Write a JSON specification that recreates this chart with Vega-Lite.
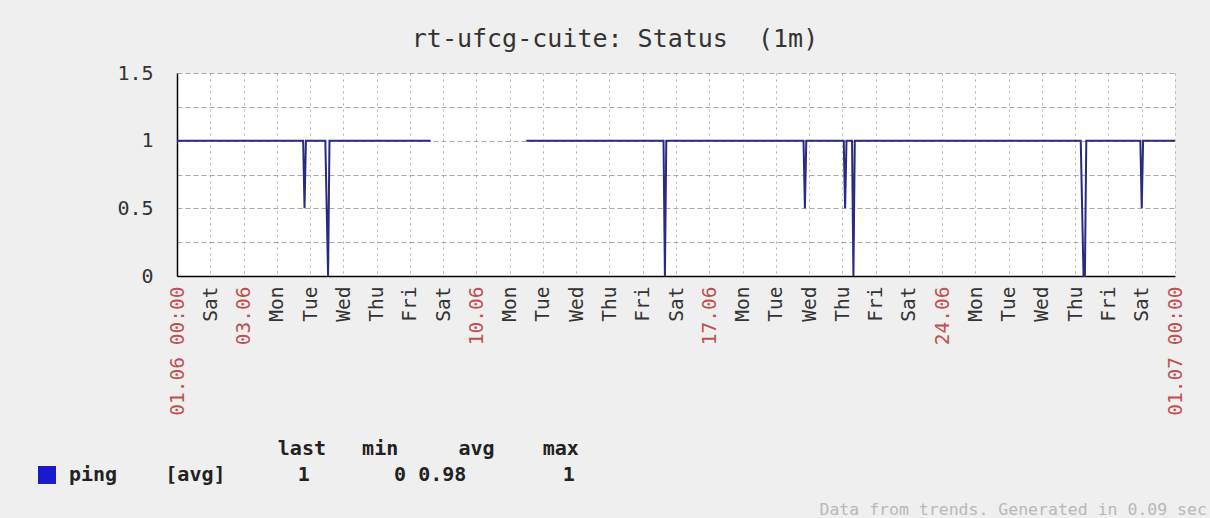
{
  "$schema": "https://vega.github.io/schema/vega-lite/v6.json",
  "autosize": {"type": "none"},
  "width": 998,
  "height": 203,
  "padding": {"left": 177, "top": 73, "right": 35, "bottom": 242},
  "background": "#efefef",
  "title": {
    "text": "rt-ufcg-cuite: Status\u00a0\u00a0(1m)",
    "font": "DejaVu Sans Mono",
    "fontSize": 25,
    "fontWeight": "normal",
    "color": "#333333",
    "frame": "group",
    "anchor": "middle",
    "dx": -61,
    "dy": 34,
    "baseline": "alphabetic",
    "offset": 25
  },
  "data": {
    "values": [
      {"time": "2012-06-01T00:00:00Z", "value": 1, "series": "ping", "seg": 1},
      {"time": "2012-06-04T19:00:00Z", "value": 1, "series": "ping", "seg": 1},
      {"time": "2012-06-04T20:00:00Z", "value": 0.5, "series": "ping", "seg": 1},
      {"time": "2012-06-04T21:00:00Z", "value": 1, "series": "ping", "seg": 1},
      {"time": "2012-06-05T11:00:00Z", "value": 1, "series": "ping", "seg": 1},
      {"time": "2012-06-05T12:00:00Z", "value": 0.5, "series": "ping", "seg": 1},
      {"time": "2012-06-05T13:00:00Z", "value": 0, "series": "ping", "seg": 1},
      {"time": "2012-06-05T14:00:00Z", "value": 1, "series": "ping", "seg": 1},
      {"time": "2012-06-08T15:00:00Z", "value": 1, "series": "ping", "seg": 1},
      {"time": "2012-06-11T12:00:00Z", "value": 1, "series": "ping", "seg": 2},
      {"time": "2012-06-15T15:00:00Z", "value": 1, "series": "ping", "seg": 2},
      {"time": "2012-06-15T16:00:00Z", "value": 0, "series": "ping", "seg": 2},
      {"time": "2012-06-15T17:00:00Z", "value": 1, "series": "ping", "seg": 2},
      {"time": "2012-06-19T20:00:00Z", "value": 1, "series": "ping", "seg": 2},
      {"time": "2012-06-19T21:00:00Z", "value": 0.5, "series": "ping", "seg": 2},
      {"time": "2012-06-19T22:00:00Z", "value": 1, "series": "ping", "seg": 2},
      {"time": "2012-06-21T01:00:00Z", "value": 1, "series": "ping", "seg": 2},
      {"time": "2012-06-21T02:00:00Z", "value": 0.5, "series": "ping", "seg": 2},
      {"time": "2012-06-21T03:00:00Z", "value": 1, "series": "ping", "seg": 2},
      {"time": "2012-06-21T07:00:00Z", "value": 1, "series": "ping", "seg": 2},
      {"time": "2012-06-21T08:00:00Z", "value": 0, "series": "ping", "seg": 2},
      {"time": "2012-06-21T09:00:00Z", "value": 1, "series": "ping", "seg": 2},
      {"time": "2012-06-28T04:00:00Z", "value": 1, "series": "ping", "seg": 2},
      {"time": "2012-06-28T05:00:00Z", "value": 0.5, "series": "ping", "seg": 2},
      {"time": "2012-06-28T06:00:00Z", "value": 0, "series": "ping", "seg": 2},
      {"time": "2012-06-28T07:00:00Z", "value": 0, "series": "ping", "seg": 2},
      {"time": "2012-06-28T08:00:00Z", "value": 1, "series": "ping", "seg": 2},
      {"time": "2012-06-29T23:00:00Z", "value": 1, "series": "ping", "seg": 2},
      {"time": "2012-06-30T00:00:00Z", "value": 0.5, "series": "ping", "seg": 2},
      {"time": "2012-06-30T01:00:00Z", "value": 1, "series": "ping", "seg": 2},
      {"time": "2012-07-01T00:00:00Z", "value": 1, "series": "ping", "seg": 2}
    ]
  },
  "mark": {"type": "line", "strokeWidth": 2, "interpolate": "linear"},
  "encoding": {
    "x": {
      "field": "time",
      "type": "temporal",
      "scale": {
        "type": "utc",
        "nice": false,
        "domain": [
          {"year": 2012, "month": 6, "date": 1, "utc": true},
          {"year": 2012, "month": 7, "date": 1, "utc": true}
        ]
      },
      "axis": {
        "tickCount": {"interval": "day", "step": 1},
        "labelExpr": "utcdate(datum.value) == 1 ? utcFormat(datum.value, '%d.%m %H:%M') : (utcday(datum.value) == 0 ? utcFormat(datum.value, '%d.%m') : utcFormat(datum.value, '%a'))",
        "labelColor": {
          "condition": {"test": "utcday(datum.value) == 0 || utcdate(datum.value) == 1", "value": "#c05050"},
          "value": "#333333"
        },
        "labelAngle": -90,
        "labelFont": "DejaVu Sans Mono",
        "labelFontSize": 19.5,
        "labelOverlap": false,
        "labelFlush": false,
        "labelBound": false,
        "labelPadding": 10,
        "ticks": false,
        "domainColor": "#000000",
        "domainWidth": 1.5,
        "grid": true,
        "gridColor": "#b0b0b0",
        "gridDash": [2, 4],
        "gridWidth": 1,
        "title": "Data from trends. Generated in 0.09 sec",
        "titleFont": "DejaVu Sans Mono",
        "titleFontSize": 16.5,
        "titleFontWeight": "normal",
        "titleColor": "#b8b8b8",
        "titleAlign": "left",
        "titleBaseline": "alphabetic",
        "titleX": 642,
        "titleY": 238
      }
    },
    "y": {
      "field": "value",
      "type": "quantitative",
      "scale": {"domain": [0, 1.5], "nice": false},
      "axis": {
        "values": [0, 0.25, 0.5, 0.75, 1, 1.25, 1.5],
        "format": "~g",
        "labelExpr": "(datum.value * 2) % 1 == 0 ? datum.label : ''",
        "labelFont": "DejaVu Sans Mono",
        "labelFontSize": 20,
        "labelColor": "#333333",
        "labelPadding": 24,
        "ticks": false,
        "domainColor": "#000000",
        "domainWidth": 1.5,
        "grid": true,
        "gridColor": "#a8a8a8",
        "gridDash": [5, 3],
        "gridWidth": 1,
        "title": null
      }
    },
    "color": {
      "field": "series",
      "type": "nominal",
      "scale": {"range": ["#2a2a80"]},
      "legend": {
        "orient": "none",
        "legendX": -140,
        "legendY": 366,
        "title": "\u200b\u00a0\u00a0\u00a0\u00a0\u00a0\u00a0\u00a0\u00a0\u00a0\u00a0\u00a0\u00a0\u00a0\u00a0\u00a0\u00a0\u00a0\u00a0\u00a0\u00a0last\u00a0\u00a0\u00a0min\u00a0\u00a0\u00a0\u00a0\u00a0avg\u00a0\u00a0\u00a0\u00a0max",
        "titleFont": "DejaVu Sans Mono",
        "titleFontSize": 20,
        "titleFontWeight": "bold",
        "titleColor": "#222222",
        "titleLimit": 2000,
        "titlePadding": 6,
        "labelFont": "DejaVu Sans Mono",
        "labelFontSize": 20,
        "labelFontWeight": "bold",
        "labelColor": "#222222",
        "labelLimit": 2000,
        "labelOffset": 12,
        "labelExpr": "datum.label + '\u00a0\u00a0\u00a0\u00a0[avg]\u00a0\u00a0\u00a0\u00a0\u00a0\u00a01\u00a0\u00a0\u00a0\u00a0\u00a0\u00a0\u00a00\u00a00.98\u00a0\u00a0\u00a0\u00a0\u00a0\u00a0\u00a0\u00a01'",
        "symbolType": "square",
        "symbolSize": 324,
        "padding": 0,
        "encode": {
          "symbols": {"update": {"fill": {"value": "#1a1acc"}, "stroke": {"value": "#1a1acc"}, "strokeWidth": {"value": 0}, "opacity": {"value": 1}}}
        }
      }
    },
    "detail": {"field": "seg", "type": "nominal"}
  },
  "config": {
    "view": {"fill": "#ffffff", "stroke": null}
  }
}
